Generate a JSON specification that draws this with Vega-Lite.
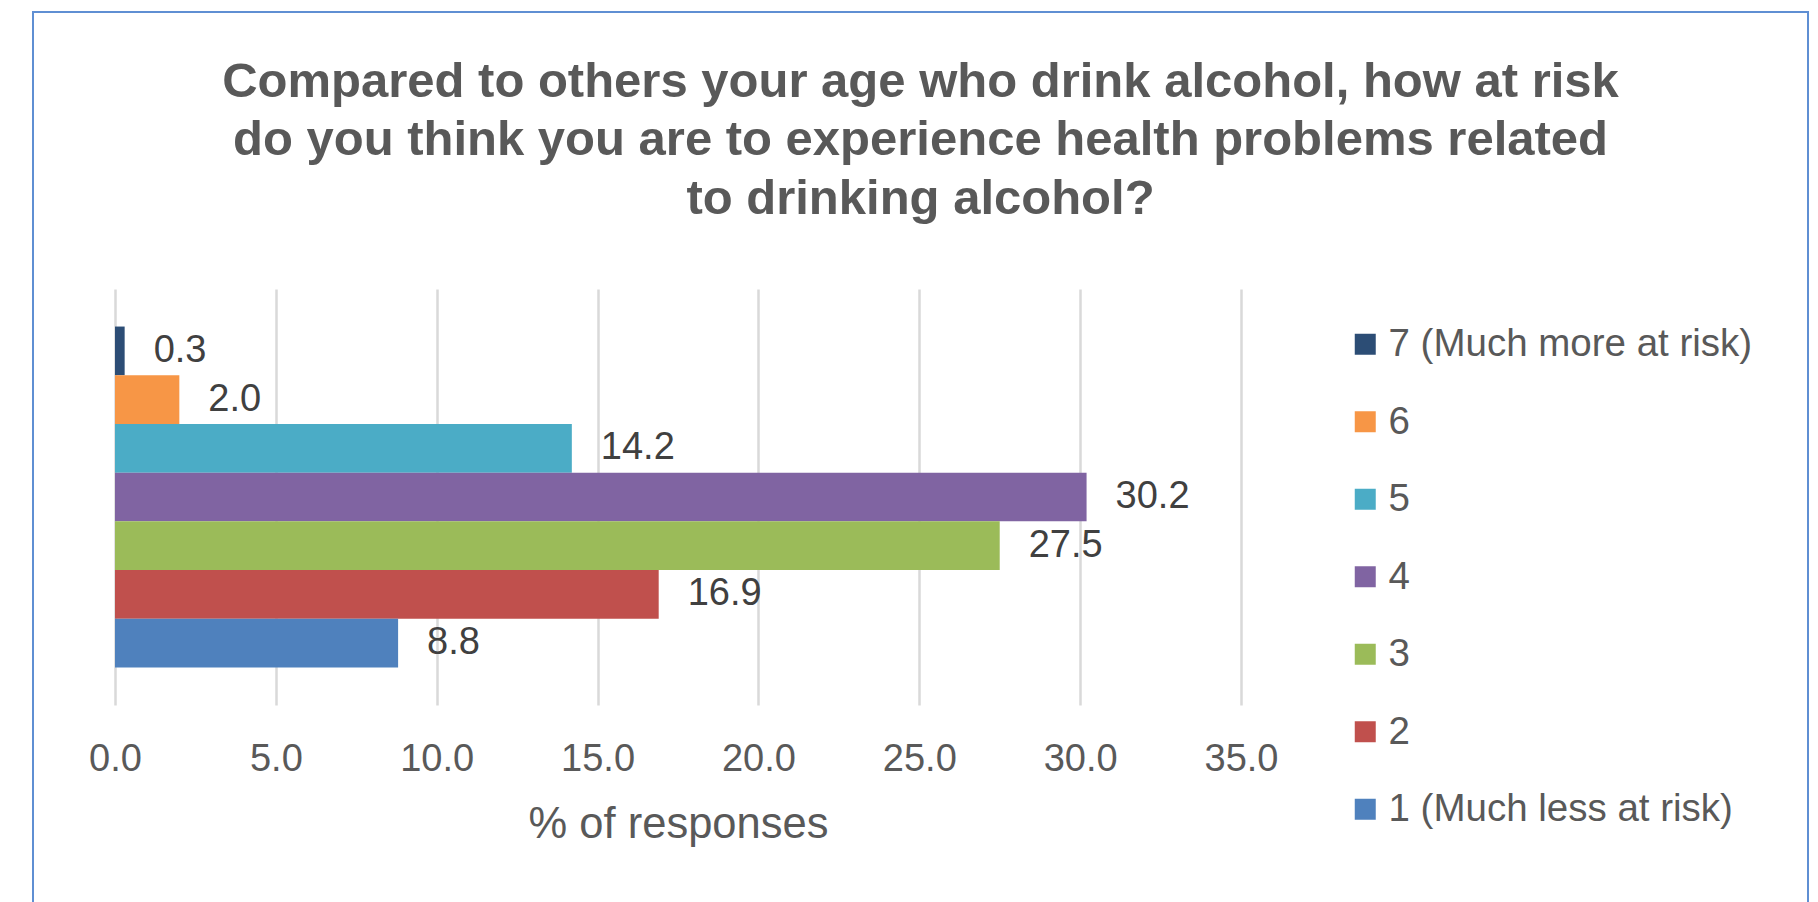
{
  "$schema": "https://vega.github.io/schema/vega-lite/v6.json",
  "width": 1775,
  "height": 900,
  "autosize": {"type": "none"},
  "padding": {"left": 33, "top": 12, "right": 10, "bottom": 0},
  "background": "white",
  "title": {
    "text": ["Compared to others your age who drink alcohol, how at risk", "do you think you are to experience health problems related", "to drinking alcohol?"],
    "fontSize": 49,
    "font": "Liberation Sans",
    "fontWeight": "bold",
    "color": "#595959",
    "lineHeight": 58.7,
    "anchor": "middle",
    "offset": 0,
    "dy": 212
  },
  "config": {
    "view": {"stroke": "#5f8fd3", "strokeWidth": 2},
    "font": "Liberation Sans"
  },
  "data": {
    "values": [
      {"category": "7 (Much more at risk)", "pct": 0.3},
      {"category": "6", "pct": 2.0},
      {"category": "5", "pct": 14.2},
      {"category": "4", "pct": 30.2},
      {"category": "3", "pct": 27.5},
      {"category": "2", "pct": 16.9},
      {"category": "1 (Much less at risk)", "pct": 8.8}
    ]
  },
  "encoding": {
    "y": {
      "field": "category",
      "type": "nominal",
      "sort": ["7 (Much more at risk)", "6", "5", "4", "3", "2", "1 (Much less at risk)"],
      "scale": {"range": [277, 693], "paddingInner": 0, "paddingOuter": 0.771},
      "axis": null
    }
  },
  "layer": [
    {
      "mark": {"type": "bar"},
      "encoding": {
        "x": {
          "field": "pct",
          "type": "quantitative",
          "scale": {"domain": [0, 35], "range": [82, 1208], "nice": false, "zero": true},
          "axis": {
            "orient": "top",
            "grid": true,
            "gridColor": "#d9d9d9",
            "gridWidth": 2.5,
            "values": [0, 5, 10, 15, 20, 25, 30, 35],
            "labels": false,
            "ticks": false,
            "domain": false,
            "title": null
          }
        },
        "color": {
          "field": "category",
          "type": "nominal",
          "sort": ["7 (Much more at risk)", "6", "5", "4", "3", "2", "1 (Much less at risk)"],
          "scale": {
            "domain": ["7 (Much more at risk)", "6", "5", "4", "3", "2", "1 (Much less at risk)"],
            "range": ["#2c4d75", "#f79646", "#4bacc6", "#8064a2", "#9bbb59", "#c0504d", "#4f81bd"]
          },
          "legend": {
            "orient": "none",
            "legendX": 1313,
            "legendY": 313,
            "title": null,
            "symbolType": "square",
            "symbolSize": 441,
            "symbolStrokeWidth": 0,
            "symbolOpacity": 1,
            "labelFontSize": 38.5,
            "labelColor": "#595959",
            "labelFont": "Liberation Sans",
            "labelLimit": 600,
            "labelOffset": 4,
            "rowPadding": 38.5,
            "padding": 0
          }
        }
      }
    },
    {
      "mark": {"type": "text", "align": "left", "baseline": "middle", "dx": 29, "fontSize": 38, "color": "#404040", "font": "Liberation Sans"},
      "encoding": {
        "x": {
          "field": "pct",
          "type": "quantitative",
          "axis": {
            "orient": "bottom",
            "offset": -207,
            "grid": false,
            "domain": false,
            "ticks": false,
            "tickSize": 0,
            "values": [0, 5, 10, 15, 20, 25, 30, 35],
            "format": ".1f",
            "labelPadding": 35,
            "labelFontSize": 38,
            "labelColor": "#595959",
            "labelFont": "Liberation Sans",
            "labelFlush": false,
            "labelOverlap": false,
            "title": "% of responses",
            "titleFontSize": 43.5,
            "titleFontWeight": "normal",
            "titleColor": "#595959",
            "titleFont": "Liberation Sans",
            "titlePadding": 25
          }
        },
        "text": {"field": "pct", "type": "quantitative", "format": ".1f"}
      }
    }
  ],
  "resolve": {"axis": {"x": "independent"}}
}
